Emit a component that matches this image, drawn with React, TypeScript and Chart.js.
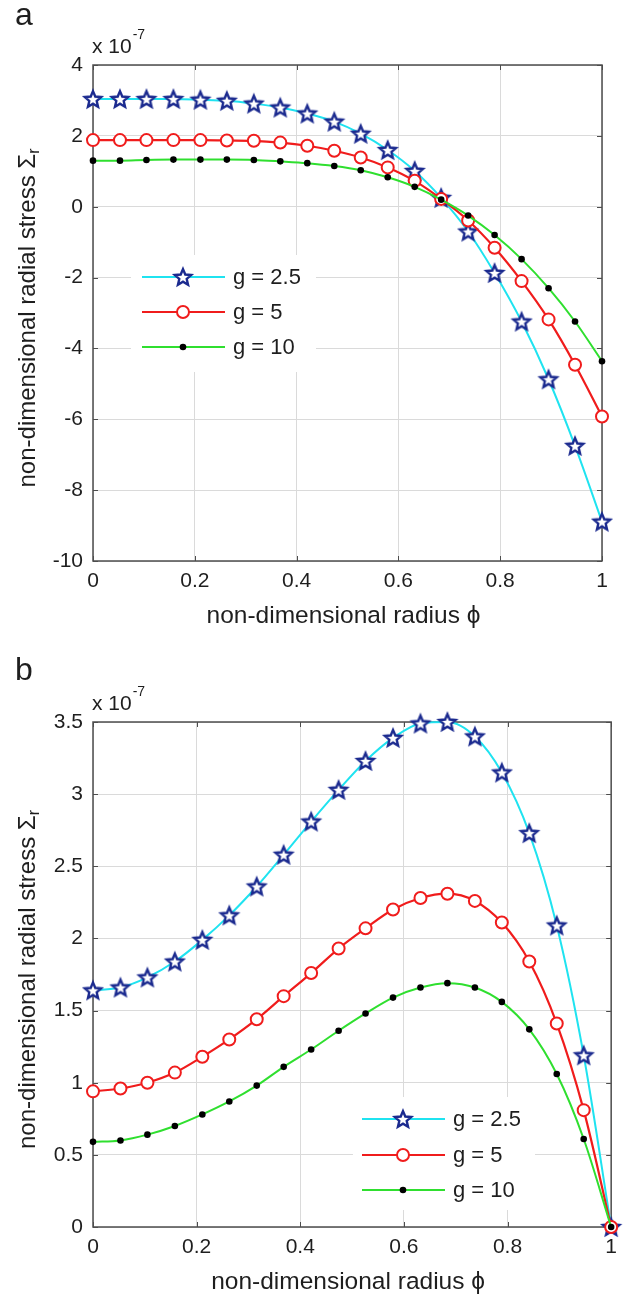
import React, { useEffect, useRef } from 'react';
import { Chart, registerables } from 'chart.js';
Chart.register(...registerables);

// ---------- data (values in units of 10^-7) ----------
const PHI = [0, 0.053, 0.105, 0.158, 0.211, 0.263, 0.316, 0.368, 0.421, 0.474, 0.526, 0.579, 0.632, 0.684, 0.737, 0.789, 0.842, 0.895, 0.947, 1];
const LEGEND_LABELS = ['g = 2.5', 'g = 5', 'g = 10'];
const X_TICKS = [0, 0.2, 0.4, 0.6, 0.8, 1];
const Y_TICKS_A = [-10, -8, -6, -4, -2, 0, 2, 4];
const Y_TICKS_B = [0, 0.5, 1, 1.5, 2, 2.5, 3, 3.5];

const A_G25 = [3.04, 3.04, 3.04, 3.04, 3.02, 2.99, 2.91, 2.8, 2.63, 2.4, 2.06, 1.6, 1.01, 0.25, -0.7, -1.87, -3.24, -4.87, -6.75, -8.89];
const A_G5 = [1.88, 1.88, 1.88, 1.88, 1.88, 1.87, 1.86, 1.81, 1.72, 1.58, 1.39, 1.11, 0.73, 0.22, -0.39, -1.16, -2.1, -3.18, -4.46, -5.92];
const A_G10 = [1.3, 1.3, 1.32, 1.33, 1.33, 1.33, 1.32, 1.28, 1.23, 1.15, 1.03, 0.83, 0.56, 0.2, -0.25, -0.8, -1.48, -2.3, -3.24, -4.36];

const B_G25 = [1.64, 1.66, 1.73, 1.84, 1.99, 2.16, 2.36, 2.58, 2.81, 3.03, 3.23, 3.39, 3.49, 3.5, 3.4, 3.15, 2.73, 2.09, 1.19, 0];
const B_G5 = [0.94, 0.96, 1.0, 1.07, 1.18, 1.3, 1.44, 1.6, 1.76, 1.93, 2.07, 2.2, 2.28, 2.31, 2.26, 2.11, 1.84, 1.41, 0.81, 0];
const B_G10 = [0.59, 0.6, 0.64, 0.7, 0.78, 0.87, 0.98, 1.11, 1.23, 1.36, 1.48, 1.59, 1.66, 1.69, 1.66, 1.56, 1.37, 1.06, 0.61, 0];

const X_TITLE = 'non-dimensional radius \u03D5';
const Y_TITLE_MAIN = 'non-dimensional radial stress \u03A3';
const Y_TITLE_SUB = 'r';

// ---------- styles ----------
const FONT = '"Liberation Sans", Arial, Helvetica, sans-serif';
const CYAN = '#1fe3f0';
const RED = '#f01c1c';
const GREEN = '#2fdf2f';
const NAVY = '#1b2a8f';
const GRID = '#dadada';
const AXIS = '#4d4d4d';
const TEXT = '#1e1e1e';

function makeStar(): HTMLCanvasElement {
  const size = 24;
  const c = document.createElement('canvas');
  c.width = size;
  c.height = size;
  const ctx = c.getContext('2d')!;
  const R = 8.6;
  const r = 3.9;
  const cx = size / 2;
  const cy = size / 2 + 0.7;
  ctx.beginPath();
  for (let k = 0; k < 10; k++) {
    const rad = k % 2 === 0 ? R : r;
    const a = -Math.PI / 2 + (k * Math.PI) / 5;
    const x = cx + rad * Math.cos(a);
    const y = cy + rad * Math.sin(a);
    if (k === 0) ctx.moveTo(x, y);
    else ctx.lineTo(x, y);
  }
  ctx.closePath();
  ctx.fillStyle = '#ffffff';
  ctx.fill();
  ctx.lineWidth = 2.4;
  ctx.lineJoin = 'miter';
  ctx.strokeStyle = NAVY;
  ctx.stroke();
  return c;
}

const STAR = makeStar();

type Marker = 'star' | 'circle' | 'dot';
const SERIES_STYLE: { color: string; marker: Marker }[] = [
  { color: CYAN, marker: 'star' },
  { color: RED, marker: 'circle' },
  { color: GREEN, marker: 'dot' },
];

function drawMarker(ctx: CanvasRenderingContext2D, m: Marker, x: number, y: number) {
  if (m === 'star') {
    ctx.drawImage(STAR, x - STAR.width / 2, y - STAR.height / 2);
  } else if (m === 'circle') {
    ctx.beginPath();
    ctx.arc(x, y, 6, 0, Math.PI * 2);
    ctx.fillStyle = '#fff';
    ctx.fill();
    ctx.lineWidth = 2;
    ctx.strokeStyle = RED;
    ctx.stroke();
  } else {
    ctx.beginPath();
    ctx.arc(x, y, 3.3, 0, Math.PI * 2);
    ctx.fillStyle = '#000';
    ctx.fill();
  }
}

function makeDatasets(g25: number[], g5: number[], g10: number[]) {
  const pts = (arr: number[]) => arr.map((v, i) => ({ x: PHI[i], y: v }));
  return [
    {
      label: LEGEND_LABELS[0],
      data: pts(g25),
      borderColor: CYAN,
      borderWidth: 2,
      pointStyle: STAR as any,
      pointRadius: 8,
      order: 3,
      clip: false as any,
    },
    {
      label: LEGEND_LABELS[1],
      data: pts(g5),
      borderColor: RED,
      borderWidth: 2.2,
      pointStyle: 'circle',
      pointRadius: 6,
      pointBorderWidth: 2,
      pointBorderColor: RED,
      pointBackgroundColor: '#ffffff',
      order: 2,
      clip: false as any,
    },
    {
      label: LEGEND_LABELS[2],
      data: pts(g10),
      borderColor: GREEN,
      borderWidth: 2,
      pointStyle: 'circle',
      pointRadius: 3.3,
      pointBorderWidth: 0,
      pointBackgroundColor: '#000000',
      order: 1,
      clip: false as any,
    },
  ];
}

type PanelSpec = {
  top: number;
  height: number;
  areaTop: number;
  areaBottom: number;
  areaRight: number;
  yTicks: number[];
  letter: string;
  letterBaseline: number;
  expBaseline: number;
  legend: { box: [number, number, number, number]; rows: number[]; l1: number; l2: number; m: number; t: number };
  g25: number[];
  g5: number[];
  g10: number[];
};

function decorPlugin(spec: PanelSpec) {
  return {
    id: 'decor',
    beforeDatasetsDraw(chart: any) {
      const { ctx, chartArea: a, scales } = chart;
      ctx.save();
      ctx.strokeStyle = AXIS;
      ctx.lineWidth = 1.5;
      ctx.strokeRect(a.left, a.top, a.right - a.left, a.bottom - a.top);
      ctx.lineWidth = 1;
      const tl = 5;
      X_TICKS.forEach((v) => {
        const px = Math.round(scales.x.getPixelForValue(v)) + 0.5;
        ctx.beginPath();
        ctx.moveTo(px, a.bottom);
        ctx.lineTo(px, a.bottom - tl);
        ctx.moveTo(px, a.top);
        ctx.lineTo(px, a.top + tl);
        ctx.stroke();
      });
      spec.yTicks.forEach((v) => {
        const py = Math.round(scales.y.getPixelForValue(v)) + 0.5;
        ctx.beginPath();
        ctx.moveTo(a.left, py);
        ctx.lineTo(a.left + tl, py);
        ctx.moveTo(a.right, py);
        ctx.lineTo(a.right - tl, py);
        ctx.stroke();
      });
      ctx.restore();
    },
    afterDatasetsDraw(chart: any) {
      const { ctx } = chart;
      const L = spec.legend;
      ctx.save();
      ctx.fillStyle = '#ffffff';
      ctx.fillRect(L.box[0], L.box[1], L.box[2], L.box[3]);
      SERIES_STYLE.forEach((s, i) => {
        const y = L.rows[i];
        ctx.beginPath();
        ctx.moveTo(L.l1, y);
        ctx.lineTo(L.l2, y);
        ctx.lineWidth = 2;
        ctx.strokeStyle = s.color;
        ctx.stroke();
        drawMarker(ctx, s.marker, L.m, y);
        ctx.fillStyle = TEXT;
        ctx.font = `22px ${FONT}`;
        ctx.textAlign = 'left';
        ctx.textBaseline = 'middle';
        ctx.fillText(LEGEND_LABELS[i], L.t, y + 1);
      });
      ctx.restore();
    },
    afterDraw(chart: any) {
      const { ctx, chartArea: a } = chart;
      ctx.save();
      ctx.fillStyle = TEXT;
      // panel letter
      ctx.font = `32px ${FONT}`;
      ctx.textAlign = 'left';
      ctx.textBaseline = 'alphabetic';
      ctx.fillText(spec.letter, 15, spec.letterBaseline);
      // exponent
      ctx.font = `21px ${FONT}`;
      ctx.fillText('x 10', 92, spec.expBaseline);
      const w10 = ctx.measureText('x 10').width;
      ctx.font = `14px ${FONT}`;
      ctx.fillText('-7', 92 + w10 + 1, spec.expBaseline - 14);
      // x title
      ctx.font = `24.5px ${FONT}`;
      ctx.textAlign = 'center';
      ctx.textBaseline = 'middle';
      ctx.fillText(X_TITLE, (a.left + a.right) / 2 - 4, a.bottom + 55);
      // y title with subscript
      ctx.translate(28, (a.top + a.bottom) / 2 + 5);
      ctx.rotate(-Math.PI / 2);
      ctx.font = `24px ${FONT}`;
      const wMain = ctx.measureText(Y_TITLE_MAIN).width;
      ctx.font = `16px ${FONT}`;
      const wSub = ctx.measureText(Y_TITLE_SUB).width;
      const x0 = -(wMain + wSub) / 2;
      ctx.textAlign = 'left';
      ctx.font = `24px ${FONT}`;
      ctx.fillText(Y_TITLE_MAIN, x0, 0);
      ctx.font = `16px ${FONT}`;
      ctx.fillText(Y_TITLE_SUB, x0 + wMain, 7);
      ctx.restore();
    },
  };
}

const PANEL_A: PanelSpec = {
  top: 0,
  height: 640,
  areaTop: 65,
  areaBottom: 561,
  areaRight: 602,
  yTicks: Y_TICKS_A,
  letter: 'a',
  letterBaseline: 25,
  expBaseline: 53,
  legend: { box: [131, 255, 185, 117], rows: [277, 312, 347], l1: 142, l2: 225, m: 183, t: 233 },
  g25: A_G25,
  g5: A_G5,
  g10: A_G10,
};

const PANEL_B: PanelSpec = {
  top: 640,
  height: 656,
  areaTop: 82,
  areaBottom: 587,
  areaRight: 615,
  yTicks: Y_TICKS_B,
  letter: 'b',
  letterBaseline: 40,
  expBaseline: 70,
  legend: { box: [353, 457, 182, 113], rows: [479, 515, 550], l1: 362, l2: 445, m: 403, t: 453 },
  g25: B_G25,
  g5: B_G5,
  g10: B_G10,
};

function Panel({ spec }: { spec: PanelSpec }) {
  const ref = useRef<HTMLCanvasElement>(null);
  useEffect(() => {
    const canvas = ref.current;
    if (!canvas) return;
    const tickFont = { family: FONT, size: 21 };
    const yt = spec.yTicks;
    const chart = new Chart(canvas, {
      type: 'line',
      data: { datasets: makeDatasets(spec.g25, spec.g5, spec.g10) as any },
      options: {
        responsive: false,
        animation: false,
        devicePixelRatio: 1,
        layout: { padding: { left: 0, top: spec.areaTop, right: 625 - spec.areaRight, bottom: 0 } },
        elements: { line: { cubicInterpolationMode: 'monotone' } },
        plugins: { legend: { display: false }, tooltip: { enabled: false }, title: { display: false } },
        scales: {
          x: {
            type: 'linear',
            min: X_TICKS[0],
            max: X_TICKS[X_TICKS.length - 1],
            afterFit: (s: any) => {
              s.height = spec.height - spec.areaBottom;
            },
            afterBuildTicks: (s: any) => {
              s.ticks = X_TICKS.map((v) => ({ value: v }));
            },
            ticks: {
              font: tickFont,
              color: TEXT,
              padding: 8,
              maxRotation: 0,
              autoSkip: false,
              callback: (v: any) => String(v),
            },
            grid: { color: GRID, lineWidth: 1, drawTicks: false },
            border: { display: false },
          },
          y: {
            type: 'linear',
            min: yt[0],
            max: yt[yt.length - 1],
            afterFit: (s: any) => {
              s.width = 93;
            },
            afterBuildTicks: (s: any) => {
              s.ticks = yt.map((v) => ({ value: v }));
            },
            ticks: {
              font: tickFont,
              color: TEXT,
              padding: 10,
              autoSkip: false,
              callback: (v: any) => String(v),
            },
            grid: { color: GRID, lineWidth: 1, drawTicks: false },
            border: { display: false },
          },
        },
      },
      plugins: [decorPlugin(spec) as any],
    });
    return () => chart.destroy();
  }, [spec]);
  return (
    <canvas
      ref={ref}
      width={625}
      height={spec.height}
      style={{ position: 'absolute', left: 0, top: spec.top, width: 625, height: spec.height }}
    />
  );
}

export default function App() {
  return (
    <div style={{ position: 'absolute', left: 0, top: 0, width: 625, height: 1296, background: '#ffffff' }}>
      <Panel spec={PANEL_A} />
      <Panel spec={PANEL_B} />
    </div>
  );
}
